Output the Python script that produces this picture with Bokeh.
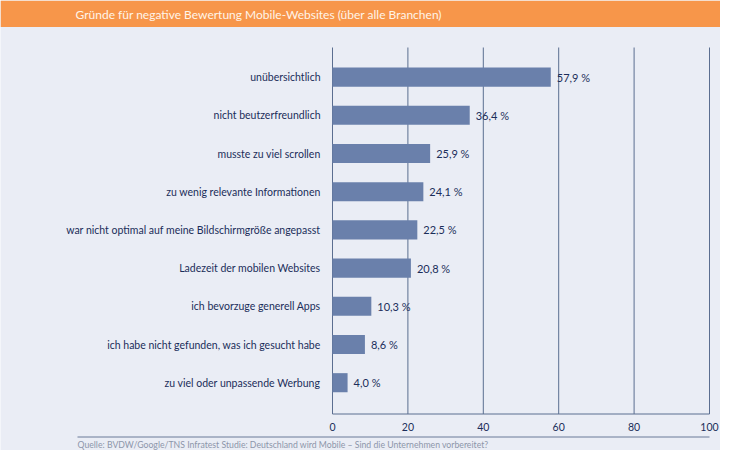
from bokeh.plotting import figure
from bokeh.models import Range1d
from bokeh.core.properties import value
from bokeh.embed import file_html
from bokeh.resources import INLINE

# ---- data ----
categories = [
    "unübersichtlich",
    "nicht beutzerfreundlich",
    "musste zu viel scrollen",
    "zu wenig relevante Informationen",
    "war nicht optimal auf meine Bildschirmgröße angepasst",
    "Ladezeit der mobilen Websites",
    "ich bevorzuge generell Apps",
    "ich habe nicht gefunden, was ich gesucht habe",
    "zu viel oder unpassende Werbung",
]
values = [57.9, 36.4, 25.9, 24.1, 22.5, 20.8, 10.3, 8.6, 4.0]
value_labels = ["57,9 %", "36,4 %", "25,9 %", "24,1 %", "22,5 %", "20,8 %", "10,3 %", "8,6 %", "4,0 %"]
ticks = [0, 20, 40, 60, 80, 100]
tick_labels = ["0", "20", "40", "60", "80", "100"]
title = "Gründe für negative Bewertung Mobile-Websites (über alle Branchen)"
source = "Quelle: BVDW/Google/TNS Infratest Studie: Deutschland wird Mobile – Sind die Unternehmen vorbereitet?"

# ---- style ----
BG = "#eaedf5"
ORANGE = "#f7964a"
BAR = "#6a80ab"
NAVY = "#1b2d5a"
GRID = "#5b6e90"
GREY = "#8d96aa"
FONT = value("Lato")

W, H = 720, 450
X0_PX, X100_PX = 332.0, 709.0
ROW0_PX, ROW_STEP = 76.6, 38.2
scale = (X100_PX - X0_PX) / 100.0

idx = list(range(len(categories)))

p = figure(width=W, height=H, output_backend="svg", toolbar_location=None,
           x_range=Range1d(-X0_PX / scale, (W - X0_PX) / scale),
           y_range=Range1d((H - ROW0_PX) / ROW_STEP, -ROW0_PX / ROW_STEP),
           min_border=0, x_axis_location=None, y_axis_location=None)
p.extra_x_ranges = {"px": Range1d(0, W)}
p.extra_y_ranges = {"px": Range1d(H, 0)}
p.grid.visible = False
p.outline_line_color = None
p.background_fill_color = BG
p.border_fill_color = BG

# header band
p.quad(left=[0], right=[W], top=[0], bottom=[26.5], fill_color=ORANGE,
       line_color=None, x_range_name="px", y_range_name="px")
p.text(x=[75], y=[13.5], text=[title], text_font=FONT, text_font_size="12px",
       text_color="#fff4e8", text_baseline="middle", text_align="left",
       x_range_name="px", y_range_name="px")

# grid lines + spine
p.segment(x0=ticks, x1=ticks, y0=[47] * len(ticks), y1=[413.5] * len(ticks),
          line_color=GRID, line_width=1, y_range_name="px")
p.segment(x0=[ticks[0]], x1=[ticks[-1]], y0=[413.5], y1=[413.5],
          line_color=GRID, line_width=1, y_range_name="px")

# bars
p.hbar(y=idx, left=0, right=values, height=0.5, fill_color=BAR, line_color=None)

# value labels
p.text(x=values, y=idx, text=value_labels, x_offset=6, text_font=FONT,
       text_font_size="11px", text_color=NAVY, text_baseline="middle", text_align="left")

# category labels
p.text(x=[0] * len(categories), y=idx, text=categories, x_offset=-12, text_font=FONT,
       text_font_size="10.5px", text_color=NAVY, text_baseline="middle", text_align="right")

# tick labels
p.text(x=ticks, y=[426] * len(ticks), text=tick_labels, text_font=FONT,
       text_font_size="10.5px", text_color=NAVY, text_baseline="middle", text_align="center",
       y_range_name="px")

# footer
p.segment(x0=[77], x1=[709], y0=[436.5], y1=[436.5], line_color="#6a7a98", line_width=1,
          x_range_name="px", y_range_name="px")
p.text(x=[77], y=[443.5], text=[source], text_font=FONT, text_font_size="8.7px",
       text_color=GREY, text_baseline="middle", text_align="left",
       x_range_name="px", y_range_name="px")

open("out.html", "w").write(file_html(p, INLINE))
